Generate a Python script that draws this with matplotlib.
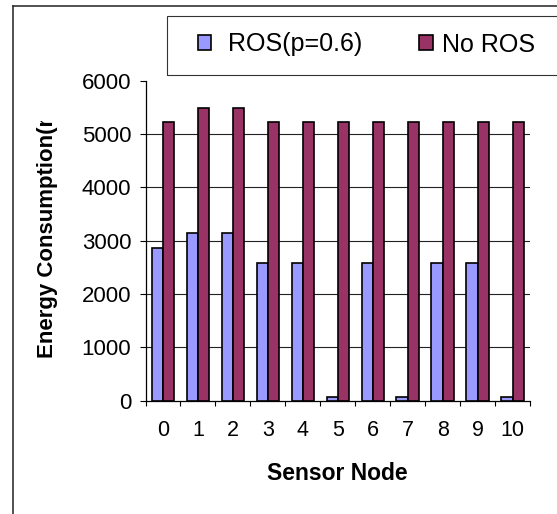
import numpy as np
import matplotlib
matplotlib.use("Agg")
import matplotlib.pyplot as plt
from matplotlib.patches import Rectangle
from matplotlib.lines import Line2D
from matplotlib.transforms import Bbox, TransformedBbox

plt.rcParams['font.family'] = ['Liberation Sans', 'DejaVu Sans']

# ---- data ----
nodes = [0, 1, 2, 3, 4, 5, 6, 7, 8, 9, 10]
ros_values = [2870, 3140, 3140, 2580, 2580, 70, 2580, 70, 2580, 2580, 70]
noros_values = [5220, 5490, 5490, 5220, 5220, 5220, 5220, 5220, 5220, 5220, 5220]
y_ticks = [0, 1000, 2000, 3000, 4000, 5000, 6000]
series_labels = [' ROS(p=0.6)', 'No ROS']
x_label = 'Sensor Node'
y_label = 'Energy Consumption(mJ)'

W, H = 557, 514
fig = plt.figure(figsize=(W / 100, H / 100), dpi=100)

def fx(px):
    return px / W

def fy(py):
    return 1 - py / H

ax = fig.add_axes([fx(145.5), fy(400.7), (530 - 145.5) / W, (400.7 - 80.7) / H])

x = np.arange(len(nodes))
w = 0.32
b1 = ax.bar(x - w / 2, ros_values, w, color='#9999FF', edgecolor='black',
            linewidth=1.2, zorder=3, label=series_labels[0])
b2 = ax.bar(x + w / 2, noros_values, w, color='#993366', edgecolor='black',
            linewidth=1.2, zorder=3, label=series_labels[1])

ax.set_xlim(-0.5, len(nodes) - 0.5)
ax.set_ylim(y_ticks[0], y_ticks[-1])
ax.set_yticks(y_ticks)
for v in y_ticks[1:-1]:
    ax.axhline(v, color='#222222', linewidth=0.8, zorder=1)

ax.set_xticks(x)
ax.set_xticklabels([str(n) for n in nodes])
ax.set_xticks(np.arange(-0.5, len(nodes), 1), minor=True)
ax.tick_params(axis='x', which='major', length=0, pad=14, labelsize=15.5)
ax.tick_params(axis='x', which='minor', length=3.6, width=0.8, direction='out')
ax.tick_params(axis='y', length=4.3, width=0.8, pad=6, labelsize=16, direction='out')

for s in ['top', 'right']:
    ax.spines[s].set_visible(False)
for s in ['left', 'bottom']:
    ax.spines[s].set_linewidth(0.9)
    ax.spines[s].set_color('black')

ax.set_xlabel(x_label, fontsize=16.5, fontweight='bold')
ax.xaxis.set_label_coords(0.5, -(462 - 400.7) / 320)

# y label (clipped at the top like the original)
t = fig.text(fx(47.2), fy(358.5), y_label, rotation=90, ha='center', va='bottom',
             fontsize=16, fontweight='bold')
t.set_clip_box(TransformedBbox(Bbox([[0, 0], [1, fy(121)]]), fig.transFigure))
t.set_clip_on(True)

# legend
fig.legend([b1, b2], series_labels, loc='center left',
           bbox_to_anchor=(fx(197.7), fy(44.5)), ncol=2, frameon=False,
           fontsize=18, handlelength=0.53, handleheight=0.53,
           handletextpad=0.39, columnspacing=2.3, borderpad=0, borderaxespad=0)
fig.add_artist(Rectangle((fx(166.7), fy(74.5)), 1.0, (74.5 - 16) / H,
                         transform=fig.transFigure, fill=False,
                         edgecolor='#333333', linewidth=0.8))

# outer chart frame
fig.add_artist(Line2D([fx(13), fx(13)], [fy(6), -0.1], transform=fig.transFigure,
                      color='#222222', linewidth=1.1))
fig.add_artist(Line2D([fx(13), 1.1], [fy(6), fy(6)], transform=fig.transFigure,
                      color='#222222', linewidth=1.1))

fig.savefig('out.png', dpi=100)
